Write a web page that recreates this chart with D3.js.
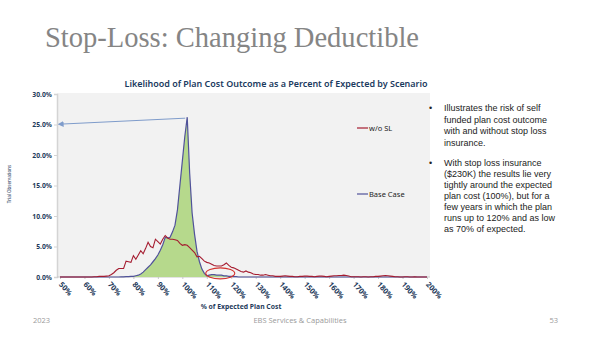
<!DOCTYPE html>
<html>
<head>
<meta charset="utf-8">
<script src="https://cdn.jsdelivr.net/npm/d3@7"></script>
<style>
  body { margin: 0; background: #fff; }
  svg { display: block; }
  .ytick text, .xtick text { font-family: "Noto Sans", Lato, sans-serif; font-weight: 700; fill: #1f3b5c; }
</style>
</head>
<body>
<div id="chart"></div>
<script>
// % of expected plan cost, 1% bins
var pctStart = 50;
var pctEnd = 200;

// w/o stop loss, % of trials, 50% .. 200%
var woSL = [
  0, 0, 0, 0, 0, 0, 0, 0, 0, 0,
  0, 0, 0, 0, 0.05, 0.05, 0.1, 0.1, 0.1, 0.15,
  0.2, 0.4, 0.7, 1.1, 1.4, 1.4, 1.4, 2.6, 2.5, 2.4,
  3.5, 2.9, 3.6, 4.3, 3.8, 4.7, 5.7, 5.0, 4.8, 6.2,
  5.8, 5.4, 6.2, 6.8, 6.4, 6.2, 6.2, 6.1, 6.0, 5.5,
  5.2, 5.3, 5.2, 4.8, 4.4, 4.0, 3.3, 3.4, 3.0, 2.6,
  2.4, 2.3, 2.1, 1.9, 1.8, 1.8, 1.8, 2.0, 2.3, 1.9,
  1.6, 1.5, 1.3, 1.1, 0.9, 0.8, 1.0, 0.8, 0.7, 0.5,
  0.4, 0.4, 0.3, 0.3, 0.4, 0.3, 0.2, 0.2, 0.1, 0.1,
  0.1, 0.15, 0.2, 0.15, 0.1, 0.1, 0.05, 0.05, 0.1, 0.1,
  0.15, 0.15, 0.1, 0.1, 0.05, 0.1, 0.15, 0.15, 0.1, 0.05,
  0.1, 0.15, 0.2, 0.2, 0.25, 0.25, 0.3, 0.25, 0.15, 0.05,
  0.05, 0.05, 0.05, 0, 0.05, 0.05, 0, 0.05, 0.05, 0.1,
  0.1, 0.15, 0.2, 0.25, 0.2, 0.15, 0.1, 0.05, 0.05, 0,
  0, 0.05, 0.05, 0, 0, 0.05, 0, 0, 0, 0,
  0
];

// base case (with stop loss)
var baseCase = [
  0, 0, 0, 0, 0, 0, 0, 0, 0, 0,
  0, 0, 0, 0, 0, 0, 0, 0, 0, 0,
  0, 0, 0, 0, 0, 0.02, 0.03, 0.05, 0.05, 0.1,
  0.1, 0.2, 0.3, 0.5, 0.8, 1.2, 1.6, 2.0, 2.5, 3.0,
  3.6, 4.4, 5.3, 6.5, 6.4, 6.5, 7.4, 8.5, 11, 15,
  19, 23, 26.2, 17, 10.5, 7, 4.2, 2.5, 1.3, 0.6,
  0.2, 0.3, 0.4, 0.4, 0.3, 0.3, 0.3, 0.2, 0.2, 0.1,
  0.1, 0.05, 0.05, 0, 0, 0, 0, 0, 0, 0,
  0, 0, 0, 0, 0, 0, 0, 0, 0, 0,
  0, 0, 0, 0, 0, 0, 0, 0, 0, 0,
  0, 0, 0, 0, 0, 0, 0, 0, 0, 0,
  0, 0, 0, 0, 0, 0, 0, 0, 0, 0,
  0, 0, 0, 0, 0, 0, 0, 0, 0, 0,
  0, 0, 0, 0, 0, 0, 0, 0, 0, 0,
  0, 0, 0, 0, 0, 0, 0, 0, 0, 0,
  0
];

var yTicks = [0, 5, 10, 15, 20, 25, 30];
var xTicks = [50, 60, 70, 80, 90, 100, 110, 120, 130, 140, 150, 160, 170, 180, 190, 200];

var bullets = [
  ["Illustrates the risk of self", "funded plan cost outcome", "with and without stop loss", "insurance."],
  ["With stop loss insurance", "($230K) the results lie very", "tightly around the expected", "plan cost (100%), but for a", "few years in which the plan", "runs up to 120% and as low", "as 70% of expected."]
];

var svgWidth = 600;
var svgHeight = 337;

var svg = d3.select("#chart")
  .append("svg")
  .attr("width", svgWidth)
  .attr("height", svgHeight);

// slide title
svg.append("text")
  .attr("x", 45)
  .attr("y", 47)
  .attr("font-family", "'Liberation Serif', serif")
  .attr("font-size", 30)
  .attr("fill", "#858585")
  .attr("textLength", 374)
  .attr("lengthAdjust", "spacingAndGlyphs")
  .text("Stop-Loss: Changing Deductible");

var plot = { left: 57, right: 430, top: 94, bottom: 277 };

var x = d3.scaleLinear()
  .domain([pctStart, pctEnd])
  .range([60, 427]);

var y = d3.scaleLinear()
  .domain([0, 30])
  .range([plot.bottom, plot.top]);

var series = d3.range(pctStart, pctEnd + 1).map(function(p, i) {
  return { p: p, wo: woSL[i], base: baseCase[i] };
});

// plot background
svg.append("rect")
  .attr("x", plot.left)
  .attr("y", plot.top - 1)
  .attr("width", plot.right - plot.left)
  .attr("height", plot.bottom - plot.top + 1)
  .attr("fill", "#f2f2f2");

// chart title
svg.append("text")
  .attr("x", 276)
  .attr("y", 87)
  .attr("text-anchor", "middle")
  .attr("font-family", "'Noto Sans', Lato, sans-serif")
  .attr("font-weight", 600)
  .attr("font-size", 9)
  .attr("fill", "#1a3a5e")
  .attr("textLength", 303)
  .attr("lengthAdjust", "spacingAndGlyphs")
  .text("Likelihood of Plan Cost Outcome as a Percent of Expected by Scenario");

// y axis
var yAxis = svg.append("g")
  .attr("class", "ytick")
  .attr("transform", "translate(" + plot.left + ",0)")
  .call(d3.axisLeft(y).tickValues(yTicks).tickSize(3).tickFormat(function(d) { return d.toFixed(1) + "%"; }));
yAxis.select(".domain").attr("stroke", "#d4d4d4").attr("stroke-width", 1.5);
yAxis.selectAll(".tick line").attr("stroke", "#d4d4d4");
yAxis.selectAll("text").attr("font-size", 6.8).attr("x", -5);

// x axis
var xAxis = svg.append("g")
  .attr("class", "xtick")
  .attr("transform", "translate(0," + plot.bottom + ")")
  .call(d3.axisBottom(x).tickValues(xTicks).tickSize(2).tickFormat(function(d) { return d + "%"; }));
xAxis.select(".domain").attr("stroke", "#c8c8c8").attr("d", "M" + plot.left + ",0H" + plot.right);
xAxis.selectAll(".tick line").attr("stroke", "#c8c8c8");
xAxis.selectAll("text")
  .attr("font-size", 7.5)
  .attr("text-anchor", "start")
  .attr("dy", "0.35em")
  .attr("x", 0)
  .attr("y", 0)
  .attr("transform", "translate(0,6) rotate(48)");

// axis titles
svg.append("text")
  .attr("x", 241)
  .attr("y", 309)
  .attr("text-anchor", "middle")
  .attr("font-family", "'Noto Sans', Lato, sans-serif")
  .attr("font-weight", 700)
  .attr("font-size", 6.8)
  .attr("fill", "#1f3b5c")
  .text("% of Expected Plan Cost");

svg.append("text")
  .attr("transform", "translate(11,184) rotate(-90)")
  .attr("text-anchor", "middle")
  .attr("font-family", "'Noto Sans', Lato, sans-serif")
  .attr("font-size", 4.5)
  .attr("fill", "#1f3b5c")
  .text("Trial Observations");

// green area under base case
var area = d3.area()
  .x(function(d) { return x(d.p); })
  .y0(y(0))
  .y1(function(d) { return y(d.base); });

svg.append("path")
  .datum(series)
  .attr("d", area)
  .attr("fill", "#b6d98c");

var lineWo = d3.line()
  .x(function(d) { return x(d.p); })
  .y(function(d) { return y(d.wo); });

var lineBase = d3.line()
  .x(function(d) { return x(d.p); })
  .y(function(d) { return y(d.base); });

svg.append("path")
  .datum(series)
  .attr("d", lineBase)
  .attr("fill", "none")
  .attr("stroke", "#50529a")
  .attr("stroke-width", 1.2);

svg.append("path")
  .datum(series)
  .attr("d", lineWo)
  .attr("fill", "none")
  .attr("stroke", "#a51c30")
  .attr("stroke-width", 1.1);

// legend
var legend = [
  { name: "w/o SL", color: "#a51c30", y: 128 },
  { name: "Base Case", color: "#50529a", y: 194 }
];
legend.forEach(function(l) {
  svg.append("line")
    .attr("x1", 357).attr("x2", 368)
    .attr("y1", l.y).attr("y2", l.y)
    .attr("stroke", l.color)
    .attr("stroke-width", 1.2);
  svg.append("text")
    .attr("x", 369)
    .attr("y", l.y + 2.5)
    .attr("font-family", "'Noto Sans', Lato, sans-serif")
    .attr("font-size", 7.5)
    .attr("fill", "#222")
    .text(l.name);
});

// annotation arrow from the peak to the 25% label
var defs = svg.append("defs");
defs.append("marker")
  .attr("id", "arrow")
  .attr("viewBox", "0 0 10 10")
  .attr("refX", 1)
  .attr("refY", 5)
  .attr("markerWidth", 6)
  .attr("markerHeight", 6)
  .attr("orient", "auto-start-reverse")
  .append("path")
  .attr("d", "M0,0L10,5L0,10z")
  .attr("fill", "#7f9ccb");

var peak = series[d3.maxIndex(series, function(d) { return d.base; })];
svg.append("line")
  .attr("x1", x(peak.p) - 2)
  .attr("y1", y(peak.base) + 1)
  .attr("x2", 63)
  .attr("y2", y(25) - 0.5)
  .attr("stroke", "#7f9ccb")
  .attr("stroke-width", 1)
  .attr("marker-end", "url(#arrow)");

// red ellipse around 110%-120%
svg.append("ellipse")
  .attr("cx", x(115.5))
  .attr("cy", y(0.6))
  .attr("rx", 14.5)
  .attr("ry", 5.5)
  .attr("fill", "none")
  .attr("stroke", "#d2302c")
  .attr("stroke-width", 1.1);

// bullet text
var by = [111, 166];
bullets.forEach(function(lines, b) {
  svg.append("text")
    .attr("x", 429)
    .attr("y", by[b])
    .attr("font-family", "'Liberation Sans', Arial, sans-serif")
    .attr("font-size", 9)
    .attr("fill", "#222")
    .text("\u2022");
  lines.forEach(function(t, i) {
    svg.append("text")
      .attr("x", 444)
      .attr("y", by[b] + i * (b === 0 ? 11.7 : 11))
      .attr("font-family", "'Liberation Sans', Arial, sans-serif")
      .attr("font-size", 9)
      .attr("fill", "#222")
      .text(t);
  });
});

// footer
var footer = [
  { t: "2023", x: 33, a: "start" },
  { t: "EBS Services & Capabilities", x: 300, a: "middle" },
  { t: "53", x: 558, a: "end" }
];
footer.forEach(function(f) {
  svg.append("text")
    .attr("x", f.x)
    .attr("y", 323)
    .attr("text-anchor", f.a)
    .attr("font-family", "'Open Sans', sans-serif")
    .attr("font-size", 7.5)
    .attr("fill", "#9a9a9a")
    .text(f.t);
});
</script>
</body>
</html>
